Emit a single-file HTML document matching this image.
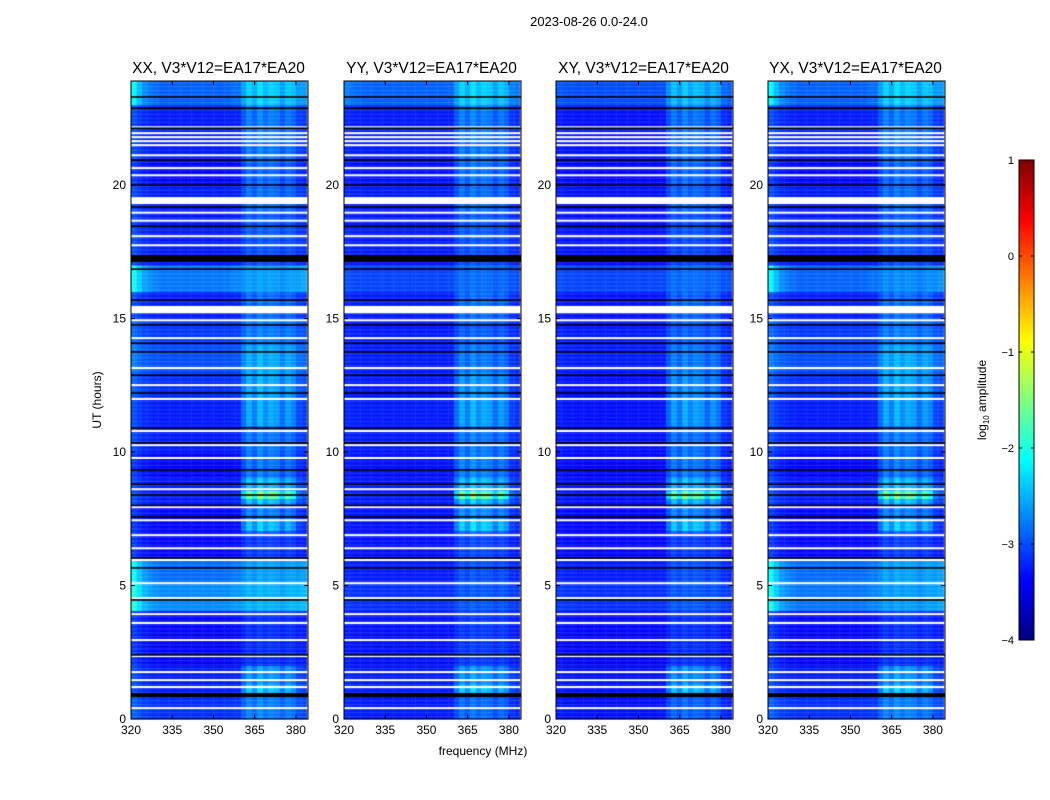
<!DOCTYPE html>
<html><head><meta charset="utf-8"><style>
body{margin:0;background:#fff;font-family:"Liberation Sans",sans-serif}
#wrap{position:relative;width:1050px;height:800px}
canvas{position:absolute;left:0;top:0}
</style></head><body>
<div id="wrap">
<canvas id="c" width="1050" height="800"></canvas>
<svg id="s" width="1050" height="800" style="position:absolute;left:0;top:0"></svg>
</div>
<script>
const panels=["XX, V3*V12=EA17*EA20","YY, V3*V12=EA17*EA20","XY, V3*V12=EA17*EA20","YX, V3*V12=EA17*EA20"];
const freqTicks=[320,335,350,365,380];
const timeTicks=[0,5,10,15,20];
const cbTicks=[1,0,-1,-2,-3,-4];
// column (2 MHz bins 320..384) RFI profile
const colBoost=[0,0,0,0,0,0,0,0,0,0,0,0,0,0,0,0,0,0,0,0,0.5,0.9,0.6,1.0,0.7,0.9,0.8,0.5,0.8,0.6,0.2,0.1];
const lowBoost=[0.5,0.3,0.15,0.08,0.04,0,0,0,0,0,0,0,0,0,0,0,0,0,0.04,0.04,0,0,0,0,0,0,0,0,0,0.05,0.1,0.15];
// per-hour base log amplitude per panel
const baseXX=[-3.15,-3.25,-3.35,-3.35,-2.7,-2.85,-3.35,-3.35,-3.25,-3.35,-3.25,-3.25,-3.15,-3.0,-3.1,-3.25,-2.8,-3.25,-3.25,-3.25,-3.35,-3.25,-3.25,-2.9];
const baseYY=[-3.25,-3.25,-3.3,-3.3,-3.15,-3.25,-3.3,-3.3,-3.25,-3.3,-3.25,-3.25,-3.25,-3.25,-3.25,-3.25,-3.05,-3.25,-3.25,-3.25,-3.3,-3.25,-3.25,-2.9];
const baseXY=[-3.3,-3.3,-3.35,-3.35,-3.15,-3.25,-3.35,-3.35,-3.3,-3.35,-3.3,-3.3,-3.3,-3.25,-3.25,-3.3,-3.05,-3.3,-3.3,-3.3,-3.35,-3.3,-3.3,-3.0];
const baseYX=[-3.15,-3.25,-3.35,-3.35,-2.8,-2.85,-3.35,-3.35,-3.25,-3.35,-3.25,-3.25,-3.15,-3.0,-3.1,-3.25,-2.9,-3.25,-3.25,-3.25,-3.35,-3.25,-3.25,-2.9];
const lowScale=[1.0,0.2,0.2,1.0];
const rfiRow=[0.6,0.9,0.3,0.3,0.3,0.4,0.4,0.9,1.2,0.8,0.7,1.0,0.9,0.7,0.5,0.6,0.3,0.4,0.5,0.6,0.7,0.7,0.7,0.8];
const rfiSpikes=[[8.2,8.5,2.0],[1.0,1.3,1.4],[6.9,7.4,1.5]];
const whiteGaps=[22.17,21.95,21.8,21.65,21.5,21.12,20.64,20.37,18.97,18.67,18.09,17.75,14.94,14.27,13.15,12.51,11.99,10.79,10.26,9.78,8.61,7.94,7.45,6.89,6.4,5.96,5.09,4.53,3.93,3.6,2.96,2.36,1.76,1.46,1.2,0.41];
const whiteBlocks=[[19.29,19.55],[15.2,15.47]];
const blackLines=[23.3,22.88,22.13,20.94,20.0,19.18,18.46,16.85,15.69,14.76,14.08,13.75,12.88,12.21,10.9,10.34,9.33,8.8,8.39,8.0,7.57,6.03,5.66,4.46,2.4];
const blackBlocks=[[17.12,17.38],[0.82,0.97]];
const bases=[baseXX,baseYY,baseXY,baseYX];

const PX=[131,344,556,768],PW=177,PT=81,PH=638,F0=320,F1=384.4,T1=23.9;
const fx=(p,f)=>PX[p]+(f-F0)/(F1-F0)*PW;
const ty=t=>PT+PH-(t/T1)*PH;
function jet(v){let t=(v+4)/5;t=Math.max(0,Math.min(1,t));const c=x=>Math.round(255*Math.max(0,Math.min(1,x)));
return `rgb(${c(1.5-Math.abs(4*t-3))},${c(1.5-Math.abs(4*t-2))},${c(1.5-Math.abs(4*t-1))})`;}
const ctx=document.getElementById('c').getContext('2d');
const dt=0.05;
for(let p=0;p<4;p++){
  for(let t=0;t<T1;t+=dt){
    const h=Math.min(23,Math.floor(t));
    let spike=1;rfiSpikes.forEach(s=>{if(t>=s[0]&&t<s[1])spike=s[2];});
    for(let c=0;c<colBoost.length;c++){
      const f=F0+2*c;
      let v=bases[p][h]+colBoost[c]*rfiRow[h]*0.8*spike+lowBoost[c]*lowScale[p]*(bases[p][h]>-3.0?1.5:0.5);
      const x0=fx(p,f),x1=Math.min(fx(p,f+2),PX[p]+PW);
      ctx.fillStyle=jet(v);
      ctx.fillRect(x0,ty(t+dt),x1-x0+0.3,ty(t)-ty(t+dt)+0.3);
    }
  }
  ctx.fillStyle='#fff';
  whiteGaps.forEach(g=>ctx.fillRect(PX[p],ty(g+0.035),PW,2));
  whiteBlocks.forEach(b=>ctx.fillRect(PX[p],ty(b[1]),PW,ty(b[0])-ty(b[1])));
  ctx.fillStyle='#000';
  blackLines.forEach(g=>ctx.fillRect(PX[p],ty(g+0.03),PW,1.6));
  blackBlocks.forEach(b=>ctx.fillRect(PX[p],ty(b[1]),PW,ty(b[0])-ty(b[1])));
}
// colorbar
const CBX=1019,CBW=15,CBT=160,CBH=480;
for(let i=0;i<CBH;i++){ctx.fillStyle=jet(1-5*i/CBH);ctx.fillRect(CBX,CBT+i,CBW,1);}
const NS='http://www.w3.org/2000/svg',svg=document.getElementById('s');
function el(tag,attrs,txt){const e=document.createElementNS(NS,tag);for(const k in attrs)e.setAttribute(k,attrs[k]);if(txt!==undefined)e.textContent=txt;svg.appendChild(e);return e;}
let e;
e=el('text',{x:589,y:26,'font-size':13,'text-anchor':'middle'},'2023-08-26 0.0-24.0');


for(let p=0;p<4;p++){
  e=el('rect',{x:PX[p],y:PT,width:PW,height:PH,fill:'none',stroke:'#000','stroke-width':1});
  
  
  e=el('text',{x:PX[p]+PW/2-1,y:73,'font-size':15.5,'text-anchor':'middle'},panels[p]);
  
  
  freqTicks.forEach(f=>{const x=fx(p,f);
    el('line',{x1:x,x2:x,y1:PT+PH,y2:PT+PH-4,stroke:'#000'});
    el('line',{x1:x,x2:x,y1:PT,y2:PT+4,stroke:'#000'});
    e=el('text',{x:x,y:PT+PH+15,'font-size':12,'text-anchor':'middle'},String(f));
    
    });
  timeTicks.forEach(t=>{const y=ty(t);
    el('line',{x1:PX[p],x2:PX[p]+4,y1:y,y2:y,stroke:'#000'});
    el('line',{x1:PX[p]+PW,x2:PX[p]+PW-4,y1:y,y2:y,stroke:'#000'});
    e=el('text',{x:PX[p]-5,y:y+4,'font-size':12,'text-anchor':'end'},String(t));
    
    });
}
e=el('text',{x:483,y:755,'font-size':12,'text-anchor':'middle'},'frequency (MHz)');


e=el('text',{x:101,y:400,'font-size':12,'text-anchor':'middle',transform:'rotate(-90 101 400)'},'UT (hours)');


e=el('rect',{x:CBX,y:CBT,width:CBW,height:CBH,fill:'none',stroke:'#000'});


cbTicks.forEach(v=>{const y=CBT+(1-v)/5*CBH;
  el('line',{x1:CBX,x2:CBX+3,y1:y,y2:y,stroke:'#000'});
  el('line',{x1:CBX+CBW,x2:CBX+CBW-3,y1:y,y2:y,stroke:'#000'});
  e=el('text',{x:CBX-5,y:y+4,'font-size':11,'text-anchor':'end'},v<0?'\u2212'+(-v):String(v));
  
  });
e=el('text',{x:986,y:400,'font-size':12,'text-anchor':'middle',transform:'rotate(-90 986 400)'});


e.innerHTML='log<tspan font-size="8" dy="3">10</tspan><tspan dy="-3"> amplitude</tspan>';
</script>
</body></html>
